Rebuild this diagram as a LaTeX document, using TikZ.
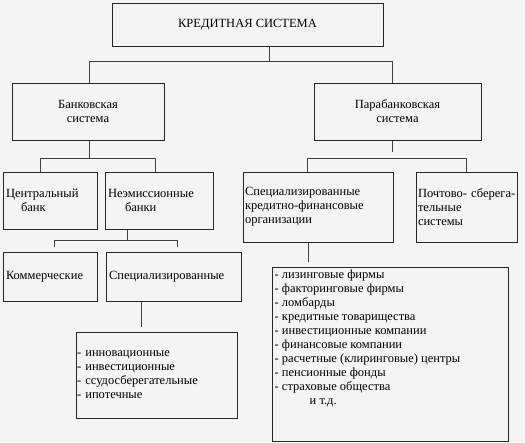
\documentclass[tikz,border=0pt]{standalone}
\usepackage{fontspec}
\setmainfont{Liberation Serif}
\begin{document}
\begin{tikzpicture}[x=1pt,y=-1pt,
  font=\fontsize{12.5}{14}\selectfont,
  box/.style={draw=black!85,line width=1pt,inner sep=3pt,text=black},
  lbox/.style={box,align=left},
  conn/.style={draw=black!75,line width=1pt}]
\fill[gray!9] (0,0) rectangle (525,442);
\useasboundingbox (0,0) rectangle (525,442);
% boxes
\node[box,minimum width=271,minimum height=43] (top) at (247.5,24.5) {КРЕДИТНАЯ СИСТЕМА};
\node[box,align=center,minimum width=152,minimum height=57] (bank) at (88,111.5) {Банковская\\система};
\node[box,align=center,minimum width=167,minimum height=57] (para) at (397.5,111.5) {Парабанковская\\система};
\node[lbox,text width=88,minimum width=94,minimum height=57] (cb) at (50,200.5) {Центральный\\\hspace*{15pt}банк};
\node[lbox,text width=102,minimum width=108,minimum height=57] (ne) at (159,200.5) {Неэмиссионные\\\hspace*{17pt}банки};
\node[lbox,text width=88,minimum width=94,minimum height=49] (com) at (50,276.5) {Коммерческие};
\node[lbox,text width=129,minimum width=135,minimum height=49] (spc) at (173.5,276.5) {Специализированные};
\node[lbox,inner sep=1pt,text width=159,minimum width=161,minimum height=86] (inn) at (156.5,375) {- инновационные\\- инвестиционные\\- ссудосберегательные\\- ипотечные};
\node[lbox,inner sep=2pt,text width=146,minimum width=150,minimum height=70] (skfo) at (318,207) {Специализированные\\кредитно-финансовые\\организации};
\node[lbox,inner sep=2pt,text width=97,minimum width=101,minimum height=70] (post) at (466.5,207) {\mbox{Почтово- сберега-}\\тельные\\системы};
\node[box,minimum width=236,minimum height=174] (lst) at (390,354) {};
\node[anchor=north west,align=left,inner sep=0pt,text=black] (lsttext) at ([shift={(3,3)}]lst.north west)
 {- лизинговые фирмы\\- факторинговые фирмы\\- ломбарды\\- кредитные товарищества\\- инвестиционные компании\\- финансовые компании\\- расчетные (клиринговые) центры\\- пенсионные фонды\\- страховые общества\\\hspace*{35pt}и т.д.};
% connectors
\coordinate (j1) at (269,61);
\draw[conn] (top.south -| j1) -- (j1);
\draw[conn] (89,61) -- (392,61);
\draw[conn] (89,61) -- (89,61 |- bank.north);
\draw[conn] (392,61) -- (392,61 |- para.north);
\coordinate (j2) at (89,158);
\draw[conn] (bank.south -| j2) -- (j2);
\draw[conn] (40,158) -- (155,158);
\draw[conn] (40,158) -- (40,158 |- cb.north);
\draw[conn] (155,158) -- (155,158 |- ne.north);
\coordinate (j3) at (127,240);
\draw[conn] (ne.south -| j3) -- (j3);
\draw[conn] (54,240) -- (177,240);
\draw[conn,shorten >=5pt] (54,240) -- (54,240 |- com.north);
\draw[conn,shorten >=5pt] (177,240) -- (177,240 |- spc.north);
\coordinate (j4) at (141,301);
\draw[conn,shorten >=5pt] (spc.south -| j4) -- (j4 |- inn.north);
\coordinate (j5) at (392,158);
\draw[conn,shorten >=6pt] (para.south -| j5) -- (j5);
\draw[conn] (307,158) -- (466,158);
\draw[conn] (307,158) -- (307,158 |- skfo.north);
\draw[conn] (466,158) -- (466,158 |- post.north);
\coordinate (j6) at (308,242);
\draw[conn,shorten >=5pt] (skfo.south -| j6) -- (j6 |- lst.north);
\end{tikzpicture}
\end{document}
